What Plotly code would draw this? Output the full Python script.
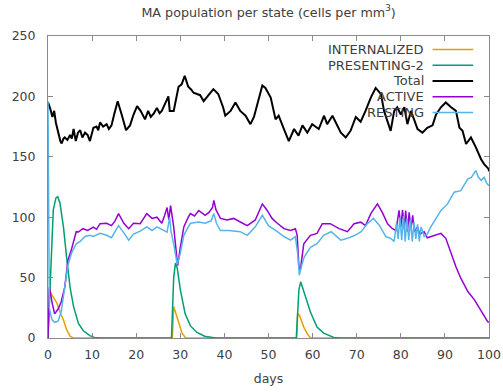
import plotly.graph_objects as go

# ---- data (days, cells per mm^3) ----
internalized_days = [0, 0.3, 1.0, 2.0, 3.0, 3.5, 4.2, 5.0, 5.7, 28.2, 28.5, 29.0, 29.6, 30.4, 31.2,
                     56.4, 56.6, 57.0, 58.0, 58.7, 59.5, 100]
internalized_vals = [0, 40, 35, 29, 19, 15, 7, 1.5, 0, 0, 26, 20, 12, 4, 0,
                     0, 20, 19, 9, 4, 0, 0]

presenting_days = [0, 0.3, 0.7, 1.2, 1.8, 2.2, 2.7, 3.5, 4.2, 5.0, 5.8, 6.9, 8.0, 9.5, 10.5, 12,
                   28.0, 28.2, 28.5, 28.9, 29.3, 30.0, 31.1, 32.3, 33.8, 35.5, 37.0, 38,
                   56.3, 56.6, 56.9, 57.3, 58.4, 59.5, 61.0, 62.5, 64.8, 66, 100]
presenting_vals = [0, 30, 64, 106, 116, 117, 112, 92, 67.6, 42, 26, 12, 6, 2, 0.5, 0,
                   0, 25, 50, 62, 58, 40, 20, 10, 4.6, 1.5, 0.3, 0,
                   0, 25, 40, 46.5, 34, 21.5, 9, 4, 0.5, 0, 0]

total_days = [0, 0.5, 1.0, 1.4, 1.8, 2.3, 2.8, 3.1, 3.5, 3.8, 4.4, 5.0, 5.4, 5.8, 6.3, 6.8, 7.3, 7.8,
              8.4, 9.0, 9.5, 10.3, 11.0, 11.4, 11.8, 12.5, 13.3, 13.8, 14.4, 15.0, 15.8, 16.7, 17.2, 17.7,
              18.6, 19.4, 20.2, 21.0, 22.0, 22.7, 23.3, 24.0, 24.7, 25.3, 25.8, 26.5, 27.3,
              27.6, 28.5, 29.6, 30.3, 31.0, 31.8, 32.4, 33.0, 34.5, 35.3, 36.4, 37.5, 38.6,
              39.7, 40.2, 41.4, 42.5, 43.6, 44.8, 45.9, 46.7, 47.8, 48.6, 49.3, 50.5, 51.6,
              52.3, 53.5, 54.6, 55.8, 56.8, 57.7, 58.8, 59.9, 61.4, 62.6, 63.3, 64.5, 65.2,
              66.4, 67.5, 68.6, 69.8, 70.9, 72.0, 73.2, 74.3, 75.5, 76.2, 76.9, 77.7, 78.5,
              79.2, 80.0, 80.8, 81.5, 82.3, 83.0, 83.8, 84.9, 86.0, 87.2, 88.0, 89.1, 90.2,
              91.4, 92.5, 93.3, 94.0, 94.8, 95.9, 97.0, 98.2, 98.9, 99.9, 100]
total_vals = [195, 190, 183, 188, 178, 170, 163, 161, 165, 166, 164, 168, 165, 173, 163, 170, 172, 166,
              170, 168, 163, 174, 175, 172, 178.5, 175, 177, 173, 176, 185, 196, 185, 178, 172,
              176, 185, 192, 188, 181, 188, 183, 186, 190.5, 186, 188, 193, 200,
              188, 188, 208, 210, 217, 208, 206, 203, 201, 196, 201, 206, 202,
              191, 184, 188, 195, 188, 184, 177, 183, 199, 209, 207, 199, 181,
              184, 173, 163, 173, 167.5, 176, 170, 177, 173, 184, 177, 184, 179,
              170, 166, 171.5, 183, 179, 188, 199, 207, 202, 188, 180, 171.5, 188,
              191, 185, 191, 177, 188, 181, 173, 170, 174, 176, 185, 191, 195,
              191, 188, 174, 171.5, 160.6, 166, 158, 148, 144, 140, 138]

active_days = [0, 0.3, 1.0, 1.5, 2.3, 3.0, 3.8, 4.5, 5.3, 6.4, 6.9, 7.9, 9.0, 10.3, 11.0, 11.8,
               13.3, 14.4, 15.2, 16.0, 17.2, 18.3, 19.4, 20.9, 22.4, 23.6, 24.7, 25.8, 26.4,
               27.0, 27.4, 27.8, 28.5, 29.2, 29.4, 30.0, 30.8, 31.8, 32.3, 33.2, 34.2, 35.6,
               36.5, 37.3, 37.6, 38.1, 39.1, 40.6, 42.1, 43.6, 45.2, 47.0, 48.6, 49.7, 50.8,
               52.0, 53.5, 55.0, 56.1, 56.5, 56.9, 57.2, 58.0, 59.5, 61.0, 62.2, 64.0, 66.0,
               67.9, 69.4, 70.9, 72.0, 73.2, 74.7, 75.8, 77.0, 78.1, 78.9, 79.6, 80.0, 80.4,
               80.8, 81.1, 81.5, 81.9, 82.3, 82.7, 83.1, 83.8, 84.3, 85.3, 86.0, 86.8, 88.0,
               89.1, 90.2, 91.4, 92.5, 93.6, 95.2, 96.7, 98.2, 99.7, 100]
active_vals = [0, 42, 28, 20, 24, 30, 42, 64, 73, 88, 87.7, 90.5, 89, 91.8, 90, 94.6,
               95, 93, 97, 103, 95, 90.5, 95, 94.6, 103, 99, 100, 95, 101,
               108, 98, 109.6, 92, 61.6, 60, 75, 92, 100, 103, 101, 105.6, 101.6,
               104, 108, 113.9, 106, 99, 97.7, 99, 96, 93, 97.7, 111, 105.6, 99,
               95, 90.5, 89, 90.5, 85, 58.8, 56, 78, 85, 86.6, 94.6, 94.6, 90.5,
               88, 94.6, 95.9, 93, 103, 111, 104, 94.6, 90.5, 89, 105.6, 92, 106,
               90, 105.6, 88, 104, 90, 101.6, 88, 92, 86, 88, 83, 84, 85,
               86.6, 82.5, 70, 59, 49.5, 38.5, 31.6, 22, 13.5, 13]

resting_days = [0, 0.3, 0.9, 1.5, 2.3, 3.0, 3.8, 4.5, 5.3, 6.4, 7.3, 8.4, 9.5, 10.3, 11.8,
                13.3, 14.4, 16.0, 17.2, 18.3, 19.4, 20.9, 22.4, 23.6, 24.7, 25.8, 27.0, 27.6,
                27.9, 28.5, 29.3, 30.0, 30.8, 31.8, 32.3, 34.2, 35.6, 37.0, 37.6, 38.2, 39.1,
                41.0, 43.6, 45.2, 47.0, 48.6, 50.0, 52.0, 53.5, 55.0, 56.1, 56.6, 57.0, 57.5,
                58.1, 59.5, 61.0, 62.5, 64.2, 66.4, 67.9, 69.6, 71.0, 72.4, 73.8, 75.2, 76.6,
                77.7, 78.5, 79.0, 79.4, 79.8, 80.2, 80.6, 81.0, 81.4, 81.8, 82.2, 82.6, 83.0,
                83.4, 83.8, 84.2, 84.6, 85.3, 86.0, 86.8, 88.0, 89.1, 90.6, 92.1, 93.6, 94.5,
                95.2, 96.0, 97.0, 97.6, 98.2, 98.9, 99.5, 100]
resting_vals = [196, 25, 15, 13, 14, 22, 42, 60, 70, 78, 80, 84, 85, 84, 86.6,
                85, 83, 93, 87, 81, 86, 88.5, 92, 89, 92, 90, 87.7, 100,
                88, 78, 61, 70, 85, 92, 95, 96, 95, 97, 103, 95, 89,
                89, 88, 85, 92, 101.6, 93, 88, 84, 81, 84, 70, 52, 60,
                67, 75, 78, 85, 88, 81, 82.5, 85, 88, 94.6, 99, 93, 84,
                82.5, 80, 95, 82, 100, 81, 101, 80, 99, 81, 98, 80, 96,
                82, 94, 80, 92, 84, 86, 92, 99, 105.6, 111, 120.7, 122, 128,
                131.8, 133, 138.6, 133, 130.5, 133, 128, 126]

x_ticks = [0, 10, 20, 30, 40, 50, 60, 70, 80, 90, 100]
y_ticks = [0, 50, 100, 150, 200, 250]

series = [
    ("INTERNALIZED", internalized_days, internalized_vals, "#E69F00", 1.5),
    ("PRESENTING-2", presenting_days, presenting_vals, "#009E73", 1.5),
    ("Total", total_days, total_vals, "#000000", 2.0),
    ("ACTIVE", active_days, active_vals, "#9400D3", 1.5),
    ("RESTING", resting_days, resting_vals, "#56B4E9", 1.5),
]

FONT = "DejaVu Sans"
TEXT = "#404040"
FRAME = "#8a8a8a"

fig = go.Figure()
for name, xs, ys, color, width in series:
    fig.add_trace(go.Scatter(x=xs, y=ys, mode="lines", name=name,
                             line=dict(color=color, width=width),
                             showlegend=False))

# gnuplot-style key: right-aligned label followed by a line sample
key_top = 0.955
key_step = 0.052
for i, (name, xs, ys, color, width) in enumerate(series):
    yk = key_top - i * key_step
    fig.add_annotation(x=0.857, y=yk, xref="paper", yref="paper", text=name,
                       showarrow=False, xanchor="right", yanchor="middle",
                       font=dict(family=FONT, size=13, color=TEXT))
    fig.add_shape(type="line", xref="paper", yref="paper",
                  x0=0.872, x1=0.964, y0=yk, y1=yk,
                  line=dict(color=color, width=width))

axis_common = dict(showgrid=False, zeroline=False, showline=True, linecolor=FRAME,
                   linewidth=1, mirror="ticks", ticks="inside", ticklen=5,
                   tickcolor=FRAME, tickwidth=1, automargin=False,
                   tickfont=dict(family=FONT, size=12.5, color=TEXT))

fig.update_layout(
    width=503, height=392,
    margin=dict(l=48, r=14, t=36, b=54),
    paper_bgcolor="white", plot_bgcolor="white",
    title=dict(text="MA population per state (cells per mm<sup>3</sup>)",
               x=0.534, xanchor="center", y=0.969, yanchor="middle",
               xref="container", yref="container",
               font=dict(family=FONT, size=12.7, color=TEXT)),
    xaxis=dict(range=[0, 100], tickvals=x_ticks, ticklabelstandoff=5,
               title=dict(text="days", standoff=13,
                          font=dict(family=FONT, size=12.5, color=TEXT)),
               **axis_common),
    yaxis=dict(range=[0, 250], tickvals=y_ticks, ticklabelstandoff=9,
               **axis_common),
)

fig.write_html("out.html")
